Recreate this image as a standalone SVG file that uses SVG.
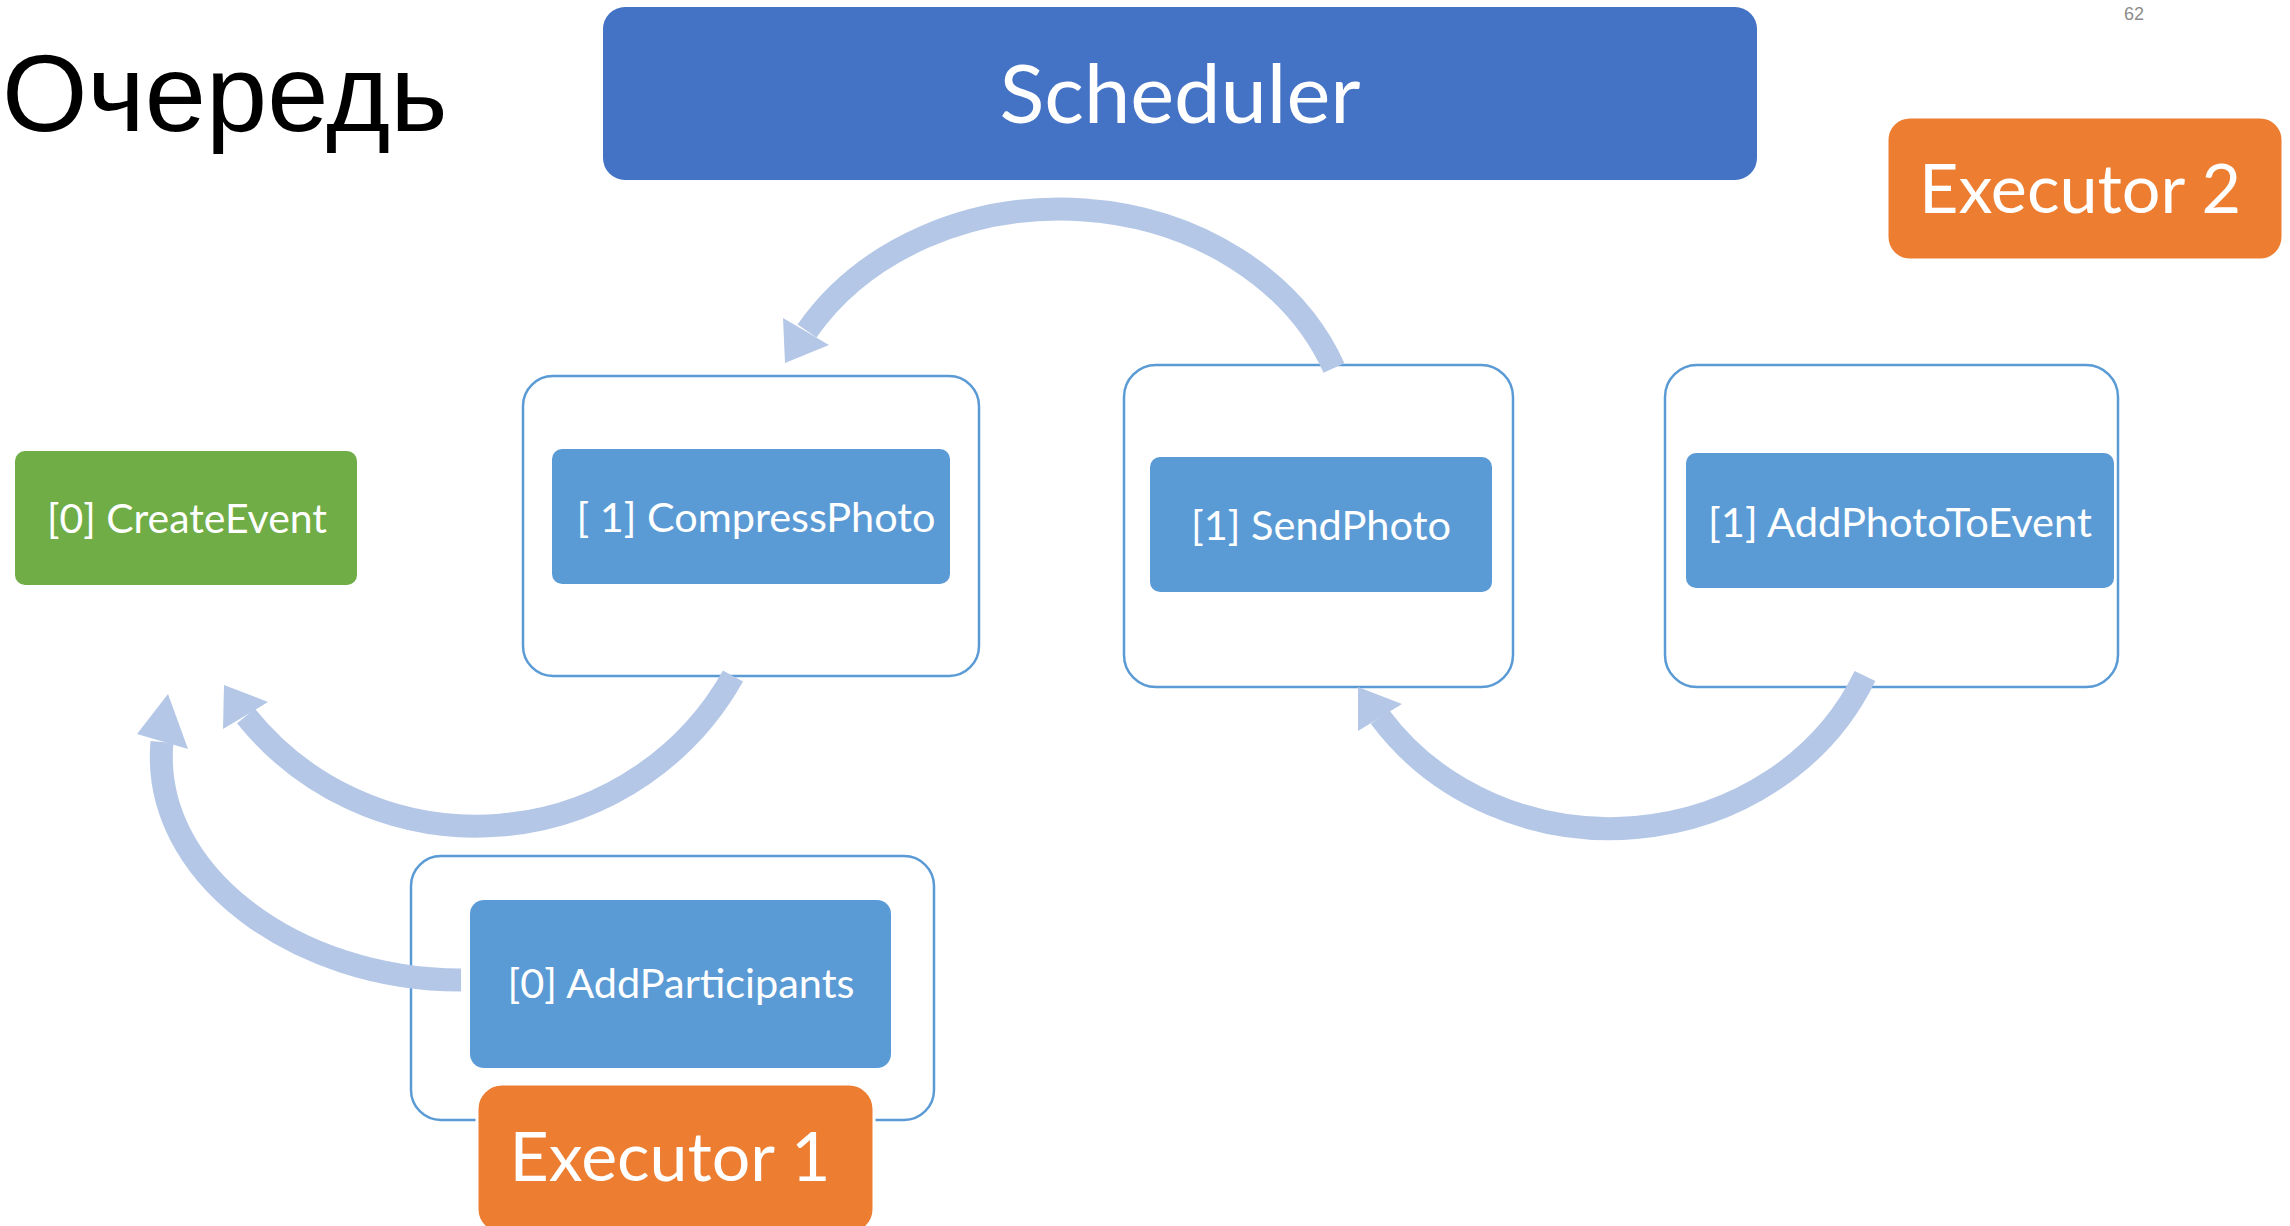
<svg xmlns="http://www.w3.org/2000/svg" width="2290" height="1226" viewBox="0 0 2290 1226">
<style>
.lbl{font-family:Lato,"Open Sans","Liberation Sans",sans-serif;fill:#ffffff;text-anchor:middle}
.task{fill:#5B9BD5}
.frame{fill:#ffffff;stroke:#5B9BD5;stroke-width:2.5}
.exec{fill:#ED7D31;stroke:#ffffff;stroke-width:3}
.arc{fill:none;stroke:#B4C7E7;stroke-width:23}
.head{fill:#B4C7E7}
</style>
<rect width="2290" height="1226" fill="#ffffff"/>
<text x="2" y="131" font-family="'Liberation Sans',Arial,sans-serif" font-size="110" fill="#000000">Очередь</text>
<text x="2124" y="20" font-family="'Liberation Sans',Arial,sans-serif" font-size="18" fill="#8c8c8c">62</text>

<g id="scheduler">
<rect x="603" y="7" width="1154" height="173" rx="22" fill="#4472C4"/>
<text class="lbl" x="1180" y="123" font-size="82" textLength="361" lengthAdjust="spacingAndGlyphs">Scheduler</text>
</g>
<g id="executor2">
<rect class="exec" x="1887" y="117" width="396" height="143" rx="23" stroke="none"/>
<text class="lbl" x="2080" y="213" font-size="68" textLength="322" lengthAdjust="spacingAndGlyphs">Executor 2</text>
</g>
<g id="createEvent">
<rect x="15" y="451" width="342" height="134" rx="10" fill="#70AD47"/>
<text class="lbl" x="187" y="533" font-size="40" textLength="280" lengthAdjust="spacingAndGlyphs">[0] CreateEvent</text>
</g>
<g id="compressPhoto">
<rect class="frame" x="523" y="376" width="456" height="300" rx="30"/>
<rect class="task" x="552" y="449" width="398" height="135" rx="10"/>
<text class="lbl" x="756" y="532" font-size="40" textLength="359" lengthAdjust="spacingAndGlyphs">[ 1] CompressPhoto</text>
</g>
<g id="sendPhoto">
<rect class="frame" x="1124" y="365" width="389" height="322" rx="32"/>
<rect class="task" x="1150" y="457" width="342" height="135" rx="10"/>
<text class="lbl" x="1321" y="540" font-size="40" textLength="260" lengthAdjust="spacingAndGlyphs">[1] SendPhoto</text>
</g>
<g id="addPhotoToEvent">
<rect class="frame" x="1665" y="365" width="453" height="322" rx="32"/>
<rect class="task" x="1686" y="453" width="428" height="135" rx="10"/>
<text class="lbl" x="1900" y="537" font-size="40" textLength="384" lengthAdjust="spacingAndGlyphs">[1] AddPhotoToEvent</text>
</g>
<g id="addParticipants">
<rect class="frame" x="411" y="856" width="523" height="264" rx="30"/>
<rect class="task" x="470" y="900" width="421" height="168" rx="14"/>
<text class="lbl" x="681" y="998" font-size="40" textLength="347" lengthAdjust="spacingAndGlyphs">[0] AddParticipants</text>
</g>
<g id="executor1">
<rect class="exec" x="477" y="1084" width="397" height="150" rx="25"/>
<text class="lbl" x="670" y="1181" font-size="68" textLength="321" lengthAdjust="spacingAndGlyphs">Executor 1</text>
</g>

<g id="connectors">
<path class="arc" d="M1334,368 A293,246 0 0 0 807,331"/>
<polygon class="head" points="783,318 785,363 829,345"/>
<path class="arc" d="M733,676 A294,292 0 0 1 246,716"/>
<polygon class="head" points="268,702 224,685 223,729"/>
<path class="arc" d="M461,980 C295,980 150,873 162,742"/>
<polygon class="head" points="137,734 168,694 188,749"/>
<path class="arc" d="M1865,676 A279,257 0 0 1 1380,717"/>
<polygon class="head" points="1402,704 1358,687 1358,731"/>
</g>
</svg>
